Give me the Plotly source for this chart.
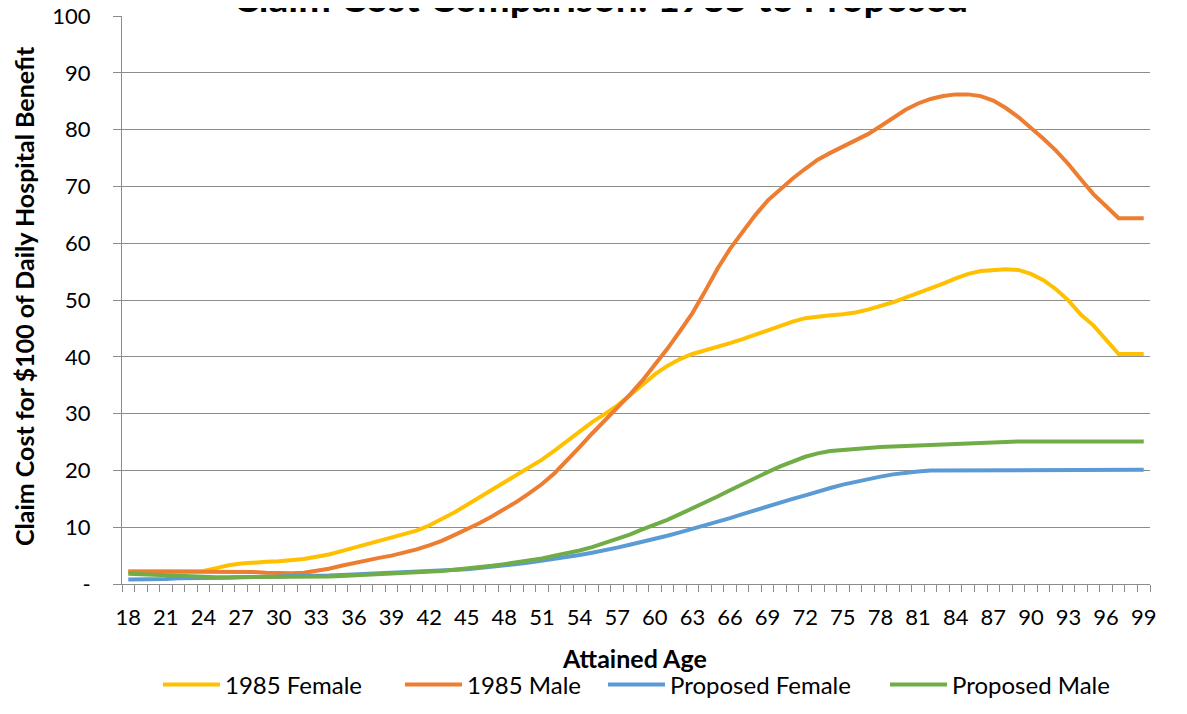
import plotly.graph_objects as go

ages = list(range(18, 100))

female_1985 = [2.2, 2.2, 2.2, 2.2, 2.2, 2.2, 2.3, 2.8, 3.3, 3.6,
               3.8, 3.9, 4.0, 4.2, 4.4, 4.8, 5.2, 5.8, 6.4, 6.9,
               7.5, 8.1, 8.8, 9.4, 10.3, 11.4, 12.6, 13.9, 15.2, 16.5,
               17.8, 19.1, 20.5, 21.9, 23.5, 25.2, 26.9, 28.5, 29.9, 31.4,
               33.2, 35.1, 36.9, 38.4, 39.6, 40.5, 41.1, 41.8, 42.4, 43.1,
               43.9, 44.7, 45.5, 46.2, 46.8, 47.1, 47.3, 47.5, 47.8, 48.3,
               48.9, 49.6, 50.4, 51.2, 52.0, 52.9, 53.8, 54.6, 55.1, 55.3,
               55.4, 55.3, 54.6, 53.5, 51.9, 49.9, 47.4, 45.5, 43.0, 40.5,
               40.5, 40.5]

male_1985 = [2.2, 2.2, 2.2, 2.2, 2.2, 2.2, 2.2, 2.2, 2.2, 2.2,
             2.1, 2.0, 1.9, 1.9, 2.0, 2.3, 2.7, 3.2, 3.7, 4.2,
             4.6, 5.0, 5.5, 6.1, 6.8, 7.6, 8.6, 9.6, 10.7, 11.9,
             13.1, 14.5, 16.0, 17.6, 19.5, 21.7, 24.1, 26.5, 28.8, 30.9,
             33.3, 35.8, 38.5, 41.4, 44.5, 47.7, 51.5, 55.5, 59.0, 62.0,
             64.9, 67.5, 69.5, 71.4, 73.1, 74.7, 75.9, 77.0, 78.1, 79.2,
             80.6, 82.1, 83.5, 84.6, 85.4, 85.9, 86.2, 86.2, 85.9, 85.1,
             83.8, 82.2, 80.4, 78.4, 76.3, 73.9, 71.2, 68.6, 66.5, 64.4,
             64.4, 64.4]

female_proposed = [0.8, 0.8, 0.9, 0.9, 1.0, 1.0, 1.0, 1.1, 1.1, 1.2,
                   1.2, 1.3, 1.3, 1.4, 1.4, 1.5, 1.5, 1.6, 1.7, 1.8,
                   1.9, 2.0, 2.0, 2.1, 2.2, 2.3, 2.5, 2.6, 2.8, 3.0,
                   3.2, 3.5, 3.8, 4.1, 4.4, 4.7, 5.1, 5.5, 5.9, 6.4,
                   6.9, 7.4, 7.9, 8.5, 9.1, 9.7, 10.3, 11.0, 11.6, 12.3,
                   13.0, 13.6, 14.3, 15.0, 15.6, 16.3, 16.9, 17.5, 18.0, 18.5,
                   18.9, 19.3, 19.6, 19.8, 20.0, 20.0, 20.0, 20.1, 20.1, 20.1,
                   20.1, 20.1, 20.1, 20.1, 20.1, 20.1, 20.1, 20.1, 20.1, 20.1,
                   20.1, 20.1]

male_proposed = [1.8, 1.7, 1.6, 1.5, 1.4, 1.3, 1.3, 1.2, 1.2, 1.2,
                 1.2, 1.2, 1.2, 1.2, 1.3, 1.3, 1.3, 1.4, 1.5, 1.6,
                 1.7, 1.8, 1.9, 2.0, 2.1, 2.3, 2.5, 2.7, 2.9, 3.2,
                 3.5, 3.8, 4.1, 4.5, 5.0, 5.4, 5.9, 6.5, 7.2, 7.9,
                 8.7, 9.6, 10.4, 11.3, 12.3, 13.3, 14.4, 15.4, 16.5, 17.6,
                 18.7, 19.7, 20.7, 21.6, 22.4, 23.0, 23.4, 23.6, 23.8, 23.9,
                 24.1, 24.2, 24.3, 24.4, 24.5, 24.6, 24.7, 24.8, 24.9, 24.9,
                 25.0, 25.1, 25.1, 25.1, 25.1, 25.1, 25.1, 25.1, 25.1, 25.1,
                 25.1, 25.1]

series_names = ["1985 Female", "1985 Male", "Proposed Female", "Proposed Male"]
series_values = [female_1985, male_1985, female_proposed, male_proposed]
series_colors = ["#FFC000", "#ED7D31", "#5B9BD5", "#70AD47"]

x_tick_vals = list(range(18, 100, 3))
y_tick_vals = list(range(0, 101, 10))
y_tick_text = ["-"] + [str(v) for v in y_tick_vals[1:]]

FONT = "Lato"
GRID = "#8C8C8C"

# page offset (default body margin of the html page)
OFF = 8
W, H = 1187 - OFF, 714 - OFF
# plot area in page pixels
L, R, T, B = 122, 1150, 16, 584


def px_x(p):
    return (p - L) / (R - L)


def px_y(p):
    return (B - p) / (B - T)


legend_ids = ["legend", "legend2", "legend3", "legend4"]
legend_line_starts = [163, 405, 608, 890]

fig = go.Figure()
for name, vals, col, lid in zip(series_names, series_values, series_colors, legend_ids):
    fig.add_trace(go.Scatter(x=ages, y=vals, mode="lines", name=name, legend=lid,
                             line=dict(color=col, width=4)))

legend_layouts = {}
for lid, start in zip(legend_ids, legend_line_starts):
    legend_layouts[lid] = dict(orientation="h", x=px_x(start - 5), xanchor="left",
                               y=px_y(685), yanchor="middle",
                               font=dict(size=24, family=FONT, color="black"),
                               itemwidth=57, bgcolor="rgba(0,0,0,0)", borderwidth=0)

fig.update_layout(
    width=W, height=H,
    margin=dict(l=L - OFF, r=W - (R - OFF), t=T - OFF, b=H - (B - OFF), autoexpand=False),
    paper_bgcolor="white", plot_bgcolor="white",
    font=dict(family=FONT, color="black", size=22),
    showlegend=True,
    xaxis=dict(range=[17.5, 99.5], tickmode="array", tickvals=x_tick_vals,
               ticktext=[str(v) for v in x_tick_vals], ticks="", automargin=False,
               ticklabeloverflow="allow",
               showgrid=False, zeroline=False, showline=True, linecolor=GRID, linewidth=1,
               tickfont=dict(size=22, family=FONT), ticklabelstandoff=14,
               minor=dict(tick0=17.5, dtick=1, ticks="outside", ticklen=7,
                          tickcolor=GRID, tickwidth=1, showgrid=False)),
    yaxis=dict(range=[0, 100], tickmode="array", tickvals=y_tick_vals, ticktext=y_tick_text,
               ticks="outside", ticklen=8, tickcolor=GRID, tickwidth=1, automargin=False,
               ticklabeloverflow="allow",
               showgrid=True, gridcolor=GRID, gridwidth=1, zeroline=False,
               showline=True, linecolor=GRID, linewidth=1, ticklabelstandoff=18,
               tickfont=dict(size=22, family=FONT)),
    annotations=[
        dict(text="<b>Claim Cost Comparison: 1985 to Proposed</b>", xref="paper", yref="paper",
             x=px_x(600), y=px_y(-3), xanchor="center", yanchor="middle", showarrow=False,
             font=dict(size=39, family=FONT)),
        dict(text="<b>Attained Age</b>", xref="paper", yref="paper",
             x=px_x(634), y=px_y(658), xanchor="center", yanchor="middle", showarrow=False,
             font=dict(size=25, family=FONT)),
        dict(text="<b>Claim Cost for $100 of Daily Hospital Benefit</b>", xref="paper", yref="paper",
             x=px_x(24), y=px_y(296), xanchor="center", yanchor="middle", showarrow=False,
             textangle=-90, font=dict(size=25, family=FONT)),
    ],
    shapes=[dict(type="line", xref="paper", yref="paper", x0=px_x(3), x1=px_x(3),
                 y0=px_y(H + 20), y1=px_y(-20), line=dict(color="#7F7F7F", width=1.5))],
    **legend_layouts,
)

fig.write_html("out.html")
